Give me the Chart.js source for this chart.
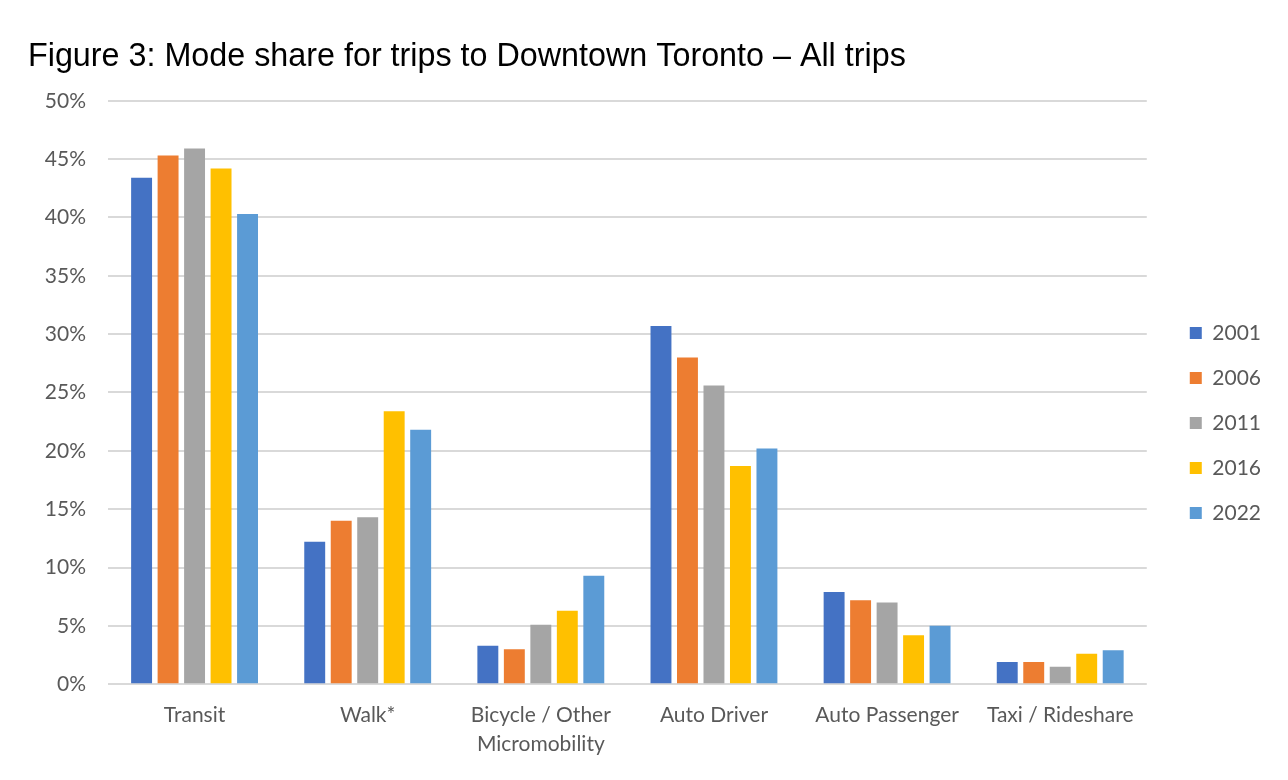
<!DOCTYPE html>
<html>
<head>
<meta charset="utf-8">
<script src="https://cdn.jsdelivr.net/npm/chart.js@4"></script>
<style>
html,body{margin:0;padding:0;background:#fff;}
#wrap{width:1288px;height:780px;}
</style>
</head>
<body>
<div id="wrap"><canvas id="c" width="1288" height="780"></canvas></div>
<script>
const categories = ['Transit', 'Walk*', ['Bicycle / Other', 'Micromobility'], 'Auto Driver', 'Auto Passenger', 'Taxi / Rideshare'];
const years = ['2001', '2006', '2011', '2016', '2022'];
const s2001 = [43.4, 12.2, 3.3, 30.7, 7.9, 1.9];
const s2006 = [45.3, 14.0, 3.0, 28.0, 7.2, 1.9];
const s2011 = [45.9, 14.3, 5.1, 25.6, 7.0, 1.5];
const s2016 = [44.2, 23.4, 6.3, 18.7, 4.2, 2.6];
const s2022 = [40.3, 21.8, 9.3, 20.2, 5.0, 2.9];
const yTicks = [0, 5, 10, 15, 20, 25, 30, 35, 40, 45, 50];
const titleText = 'Figure 3: Mode share for trips to Downtown Toronto \u2013 All trips';

const colors = ['#4472C4', '#ED7D31', '#A5A5A5', '#FFC000', '#5B9BD5'];
const seriesList = [s2001, s2006, s2011, s2016, s2022];
const grey = '#595959';

new Chart(document.getElementById('c'), {
  type: 'bar',
  data: {
    labels: categories,
    datasets: seriesList.map((s, i) => ({
      label: years[i],
      data: s,
      backgroundColor: colors[i],
      borderWidth: 0,
      categoryPercentage: 0.765,
      barPercentage: 0.79
    }))
  },
  options: {
    responsive: false,
    animation: false,
    devicePixelRatio: 1,
    layout: {padding: {left: 28, right: 17, top: 0, bottom: 13}},
    plugins: {
      title: {
        display: true,
        text: titleText,
        align: 'start',
        color: '#000',
        font: {family: 'Liberation Sans', size: 32.3, weight: 'normal', lineHeight: 1.2},
        padding: {top: 38, bottom: 24}
      },
      legend: {
        position: 'right',
        align: 'center',
        title: {display: true, text: '', font: {size: 10, lineHeight: 1.2}, padding: {top: 0, bottom: 67}},
        labels: {
          boxWidth: 12,
          boxHeight: 12,
          padding: 24,
          color: grey,
          font: {family: 'Lato', size: 21}
        }
      },
      tooltip: {enabled: false}
    },
    scales: {
      x: {
        grid: {display: false},
        border: {display: false},
        ticks: {color: grey, font: {family: 'Lato', size: 21, lineHeight: 1.4}, maxRotation: 0, minRotation: 0, autoSkip: false, padding: 8}
      },
      y: {
        min: 0,
        max: 50,
        afterBuildTicks: (scale) => { scale.ticks = yTicks.map(v => ({value: v})); },
        afterFit: (scale) => { scale.width = 80; },
        grid: {color: '#d9d9d9', lineWidth: 2, drawTicks: false},
        border: {display: false},
        ticks: {color: grey, font: {family: 'Lato', size: 21}, padding: 22, callback: (v) => v + '%'}
      },
      y2: {
        position: 'right',
        display: true,
        afterFit: (scale) => { scale.width = 19; },
        grid: {display: false},
        border: {display: false},
        ticks: {display: false}
      }
    }
  }
});
</script>
</body>
</html>
